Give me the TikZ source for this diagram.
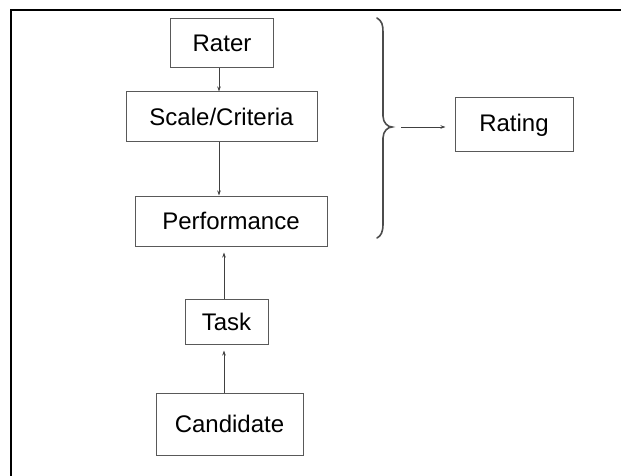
\documentclass[tikz,border=0pt]{standalone}
\usepackage{fontspec}
\setmainfont{Liberation Sans}
\usetikzlibrary{arrows.meta}

\colorlet{box edge}{black!65}
\colorlet{link}{black!75}
\tikzset{
  box/.style={draw=box edge, line width=1pt, inner sep=0pt,
    font=\fontsize{24}{28}\selectfont},
  link/.style={draw=link, line width=0.9pt, -{Stealth[length=5pt,width=3.5pt]}}
  }
\tikzstyle{frame} = [draw, line width=2.2pt, black]
\tikzstyle{brace} = [draw=black!70, line width=1.6pt, line cap=round]

\begin{document}
\begin{tikzpicture}[x=1pt, y=-1pt]
    \useasboundingbox (0,0) rectangle (621,476);

    % outer frame, only top and left show
    \path[frame] (11,476) -- (11,10) -- (621,10);

    % the boxes
    \node[box, minimum width=102.5pt, minimum height=49pt] (rater) at (222,43.5) {Rater};
    \node[box, minimum width=191pt, minimum height=50pt] (scale) at (221.5,117) {Scale/Criteria};
    \node[box, minimum width=192pt, minimum height=50pt] (perf) at (231,221) {Performance};
    \node[box, minimum width=83pt, minimum height=45pt] (task) at (226.5,321.5) {Task};
    \node[box, minimum width=147pt, minimum height=62pt] (cand) at (229.5,424) {Candidate};
    \node[box, minimum width=118pt, minimum height=54pt] (rating) at (514,125) {Rating};

    % brace round the upper part
    \coordinate (tip) at (392,127);
    \path[brace] (377,18) .. controls (382,21) and (383,25) .. (383,32)
      -- (383,116) .. controls (383,123) and (388,127) .. (tip)
      .. controls (388,127) and (383,131) .. (383,138)
      -- (383,224) .. controls (383,232) and (381,236) .. (377,238);

    % connectors
    \path[link] ([xshift=-3pt]rater.south) -- ([xshift=-3pt]rater.south |- scale.north);
    \path[link] ([xshift=-2.5pt]scale.south) -- ([xshift=-2.5pt]scale.south |- perf.north);
    \path[link, shorten >=6pt] ([xshift=-2.5pt]task.north) -- ([xshift=-2.5pt]task.north |- perf.south);
    \path[link, shorten >=6pt] ([xshift=-2.5pt]task.south |- cand.north) -- ([xshift=-2.5pt]task.south);
    \path[link, shorten <=9pt, shorten >=9pt] (tip) -- (tip -| rating.west);
\end{tikzpicture}
\end{document}
